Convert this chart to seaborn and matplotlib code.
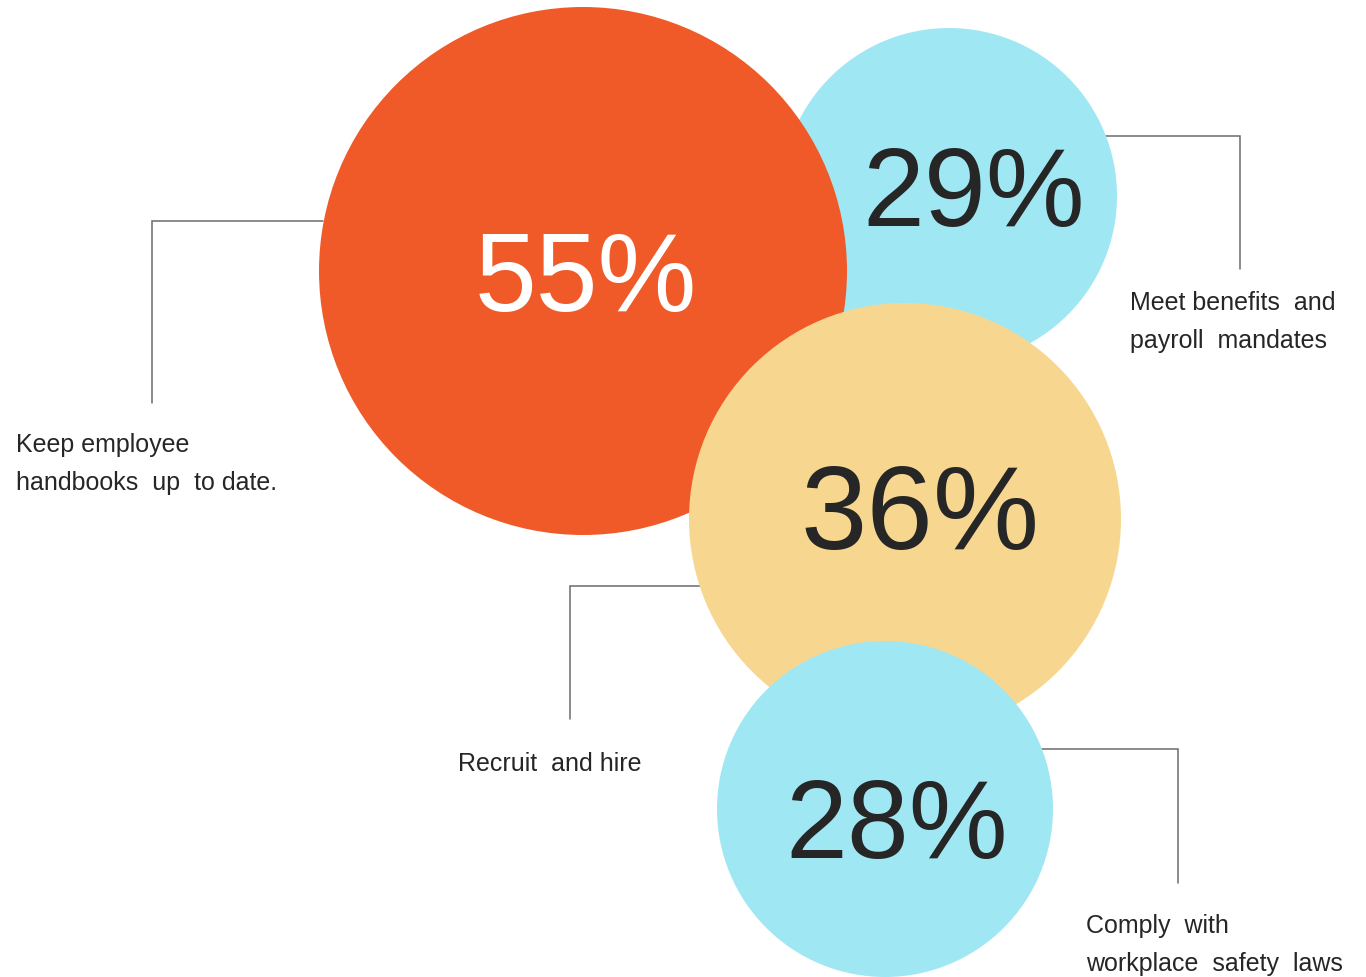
import matplotlib
matplotlib.use("Agg")
import matplotlib.pyplot as plt
from matplotlib.patches import Circle
import seaborn as sns

# ---- data ----
values = [55, 29, 36, 28]
value_labels = ["55%", "29%", "36%", "28%"]
descriptions = [
    ["Keep employee", "handbooks  up  to date."],
    ["Meet benefits  and", "payroll  mandates"],
    ["Recruit  and hire"],
    ["Comply  with", "workplace  safety  laws"],
]

# ---- layout / style (pixel coordinates, y downward) ----
centers = [(583, 271), (949, 196), (905, 519), (885, 809)]
radii = [264, 168, 216, 168]
zorders = [2, 1, 3, 4]
colors = ["#F05A28", "#A0E7F4", "#F7D78F", "#A0E7F4"]
text_colors = ["#FFFFFF", "#262626", "#262626", "#262626"]
text_pos = [(586, 311), (974, 226), (920, 549), (897, 858)]
text_sizes = [80, 80, 86, 80]
connectors = [
    [(323, 221), (152, 221), (152, 403)],
    [(1105, 136), (1240, 136), (1240, 269)],
    [(700, 586), (570, 586), (570, 719)],
    [(1040, 749), (1178, 749), (1178, 883)],
]
desc_pos = [(16, 452), (1130, 310), (458, 771), (1086, 933)]
line_gap = 38

sns.set_theme(style="white")
plt.rcParams["font.family"] = ["Liberation Sans", "DejaVu Sans"]

W, H = 1366, 977
fig = plt.figure(figsize=(W / 100, H / 100), dpi=100)
ax = fig.add_axes([0, 0, 1, 1])
ax.set_xlim(0, W)
ax.set_ylim(H, 0)
ax.set_aspect("equal")
ax.axis("off")

for path in connectors:
    xs = [p[0] for p in path]
    ys = [p[1] for p in path]
    ax.plot(xs, ys, color="#6b6b6b", lw=1.1, zorder=0.5, solid_joinstyle="miter")

for (cx, cy), r, z, c in zip(centers, radii, zorders, colors):
    ax.add_patch(Circle((cx, cy), r, facecolor=c, edgecolor="none", zorder=z))

for lab, (tx, ty), tc, z, fs in zip(value_labels, text_pos, text_colors, zorders, text_sizes):
    ax.text(tx, ty, lab, ha="center", va="baseline", fontsize=fs, color=tc, zorder=z + 0.5)

for lines, (dx, dy) in zip(descriptions, desc_pos):
    for i, ln in enumerate(lines):
        ax.text(dx, dy + i * line_gap, ln, ha="left", va="baseline",
                fontsize=18, color="#262626", zorder=6)

fig.savefig("out.png", dpi=100, facecolor="white")
